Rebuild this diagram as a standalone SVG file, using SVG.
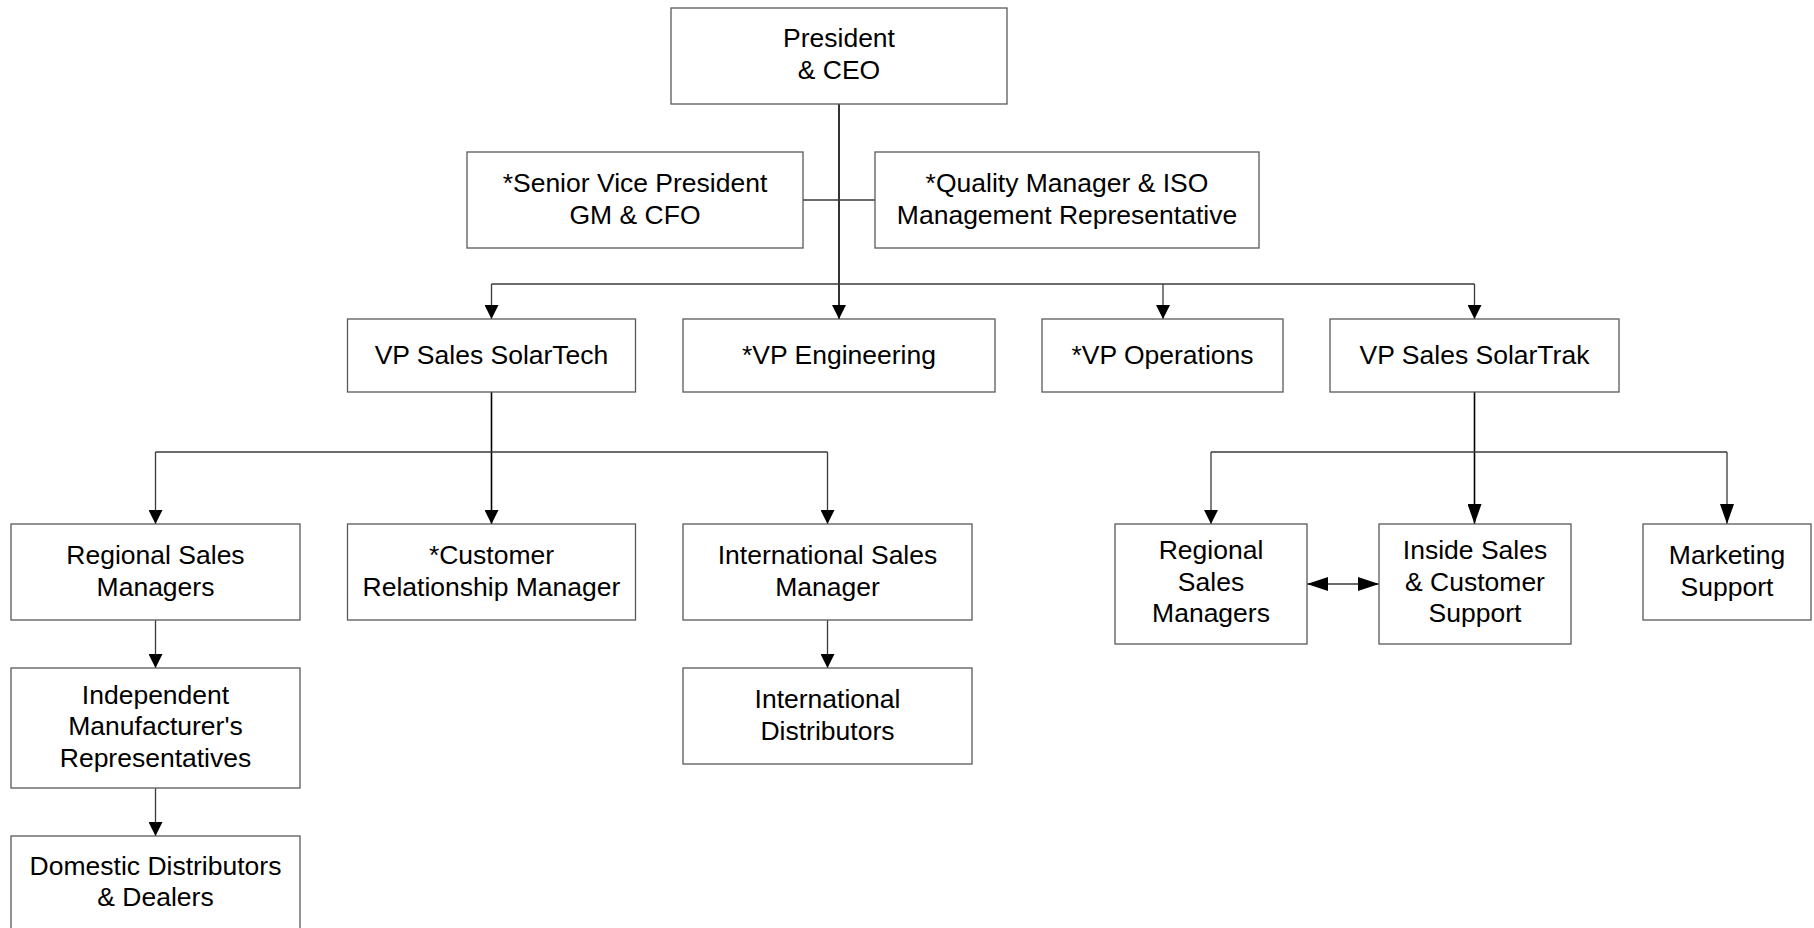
<svg xmlns="http://www.w3.org/2000/svg" width="1814" height="928" viewBox="0 0 1814 928">
<style>
.box{fill:#fff;stroke:#5a5a5a;stroke-width:1.3}
.t{font-family:"Liberation Sans",Arial,sans-serif;font-size:26.5px;fill:#000;text-anchor:middle}
.c{fill:none;stroke:#3a3a3a;stroke-width:1.3}
.k{fill:none;stroke:#000;stroke-width:1.6}
</style>
<defs>
<marker id="as" markerUnits="userSpaceOnUse" markerWidth="14" markerHeight="14" viewBox="0 0 14 14" refX="14" refY="7" orient="auto"><path d="M0,0 L14,7 L0,14 z" fill="#000"/></marker>
<marker id="al" markerUnits="userSpaceOnUse" markerWidth="20" markerHeight="14" viewBox="0 0 20 14" refX="20" refY="7" orient="auto"><path d="M0,0 L20,7 L0,14 z" fill="#000"/></marker>
<marker id="ad" markerUnits="userSpaceOnUse" markerWidth="21" markerHeight="14" viewBox="0 0 21 14" refX="21" refY="7" orient="auto-start-reverse"><path d="M0,0 L21,7 L0,14 z" fill="#000"/></marker>
</defs>
<rect width="1814" height="928" fill="#fff"/>
<g id="connectors">
<path class="k" d="M839,104 V319" marker-end="url(#as)"/>
<path class="c" d="M803,200 H875"/>
<path class="c" d="M491.5,284 H1474.5"/>
<path class="c" d="M491.5,284 V319" marker-end="url(#as)"/>
<path class="c" d="M1163,284 V319" marker-end="url(#as)"/>
<path class="c" d="M1474.5,284 V319" marker-end="url(#as)"/>
<path class="k" d="M491.5,392 V524" marker-end="url(#as)"/>
<path class="c" d="M155.5,452 H827.5"/>
<path class="c" d="M155.5,452 V524" marker-end="url(#as)"/>
<path class="c" d="M827.5,452 V524" marker-end="url(#as)"/>
<path class="c" d="M155.5,620 V668" marker-end="url(#as)"/>
<path class="c" d="M155.5,788 V836" marker-end="url(#as)"/>
<path class="c" d="M827.5,620 V668" marker-end="url(#as)"/>
<path class="k" d="M1474.5,392 V524" marker-end="url(#al)"/>
<path class="c" d="M1211,452 H1727"/>
<path class="c" d="M1211,452 V524" marker-end="url(#as)"/>
<path class="c" d="M1727,452 V524" marker-end="url(#al)"/>
<path class="c" d="M1307,584 H1379" marker-start="url(#ad)" marker-end="url(#ad)"/>
</g>
<g id="president"><rect class="box" x="671" y="8" width="336" height="96"/><text class="t" x="839" y="47">President</text><text class="t" x="839" y="79">&amp; CEO</text></g>
<g id="svp"><rect class="box" x="467" y="152" width="336" height="96"/><text class="t" x="635" y="192">*Senior Vice President</text><text class="t" x="635" y="223.5">GM &amp; CFO</text></g>
<g id="quality"><rect class="box" x="875" y="152" width="384" height="96"/><text class="t" x="1067" y="192">*Quality Manager &amp; ISO</text><text class="t" x="1067" y="223.5">Management Representative</text></g>
<g id="vp-solartech"><rect class="box" x="347.5" y="319" width="288" height="73"/><text class="t" x="491.5" y="364">VP Sales SolarTech</text></g>
<g id="vp-engineering"><rect class="box" x="683" y="319" width="312" height="73"/><text class="t" x="839" y="364">*VP Engineering</text></g>
<g id="vp-operations"><rect class="box" x="1042" y="319" width="241" height="73"/><text class="t" x="1162.5" y="364">*VP Operations</text></g>
<g id="vp-solartrak"><rect class="box" x="1330" y="319" width="289" height="73"/><text class="t" x="1474.5" y="364">VP Sales SolarTrak</text></g>
<g id="regional-left"><rect class="box" x="11" y="524" width="289" height="96"/><text class="t" x="155.5" y="564">Regional Sales</text><text class="t" x="155.5" y="595.5">Managers</text></g>
<g id="crm"><rect class="box" x="347.5" y="524" width="288" height="96"/><text class="t" x="491.5" y="564">*Customer</text><text class="t" x="491.5" y="595.5">Relationship Manager</text></g>
<g id="intl-sales"><rect class="box" x="683" y="524" width="289" height="96"/><text class="t" x="827.5" y="564">International Sales</text><text class="t" x="827.5" y="595.5">Manager</text></g>
<g id="independent"><rect class="box" x="11" y="668" width="289" height="120"/><text class="t" x="155.5" y="704">Independent</text><text class="t" x="155.5" y="735">Manufacturer's</text><text class="t" x="155.5" y="766.5">Representatives</text></g>
<g id="intl-distributors"><rect class="box" x="683" y="668" width="289" height="96"/><text class="t" x="827.5" y="708">International</text><text class="t" x="827.5" y="739.5">Distributors</text></g>
<g id="domestic"><rect class="box" x="11" y="836" width="289" height="100"/><text class="t" x="155.5" y="874.5">Domestic Distributors</text><text class="t" x="155.5" y="906">&amp; Dealers</text></g>
<g id="regional-right"><rect class="box" x="1115" y="524" width="192" height="120"/><text class="t" x="1211" y="559">Regional</text><text class="t" x="1211" y="590.5">Sales</text><text class="t" x="1211" y="622">Managers</text></g>
<g id="inside-sales"><rect class="box" x="1379" y="524" width="192" height="120"/><text class="t" x="1475" y="559">Inside Sales</text><text class="t" x="1475" y="590.5">&amp; Customer</text><text class="t" x="1475" y="622">Support</text></g>
<g id="marketing"><rect class="box" x="1643" y="524" width="168" height="96"/><text class="t" x="1727" y="564">Marketing</text><text class="t" x="1727" y="595.5">Support</text></g>
</svg>
